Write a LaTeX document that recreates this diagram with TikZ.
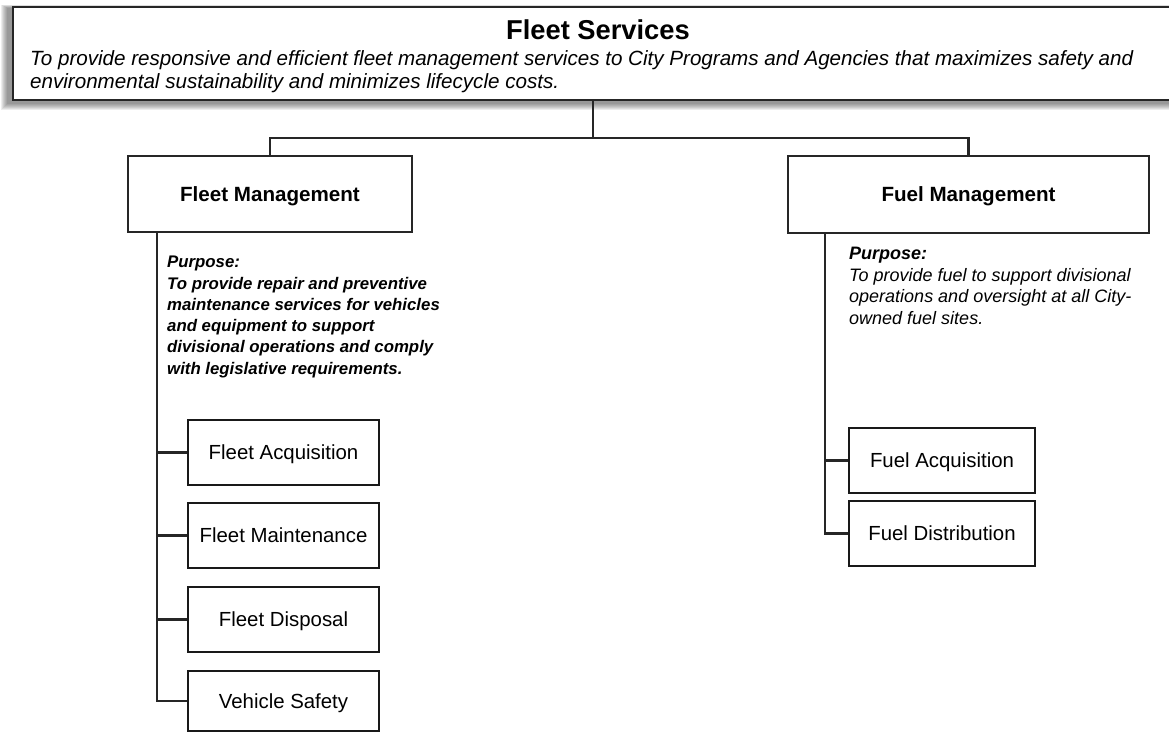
\documentclass[tikz,border=0pt]{standalone}
\usepackage{fontspec}
\setmainfont{Liberation Sans}
\usetikzlibrary{shadows}
\begin{document}
\begin{tikzpicture}[x=1pt,y=-1pt,
  line/.style={draw=black!85, line width=2.2pt},
  mgr/.style={draw=black!85, line width=2pt, fill=white, inner sep=0,
    text height=14.8pt, text depth=0pt,
    font=\fontsize{20.6}{24}\selectfont\bfseries},
  leaf/.style={draw=black!90, line width=2.3pt, fill=white, inner sep=0,
    minimum height=65pt, text height=14.6pt, text depth=0pt,
    font=\fontsize{20.4}{24}\selectfont,
    drop shadow={shadow xshift=1.4pt, shadow yshift=-1.4pt, fill=black, opacity=1}},
  purpose/.style={anchor=north west, align=left, inner sep=0},
]
\useasboundingbox (0,0) rectangle (1169,732);
% soft shadow of the top box
\foreach \k in {1,...,7}
  \fill[black, opacity=0.07] (12-4-\k, 6+2-\k*0.5) rectangle (1190, 99+4+\k);
\node[draw=black!85, line width=2pt, fill=white, anchor=north west, inner sep=0,
  minimum width=1175pt, minimum height=93pt] (top) at (12,6) {};
\node[font=\fontsize{27.3}{30}\selectfont\bfseries] (title) at (598,30) {Fleet Services};
\node[purpose, font=\fontsize{20.6}{23}\selectfont\itshape] (mission) at (30,50)
  {To provide responsive and efficient fleet management services to City Programs and Agencies that maximizes safety and\\
   environmental sustainability and minimizes lifecycle costs.};

% second level
\node[mgr, minimum width=284pt, minimum height=76pt] (fm) at (270,194) {Fleet Management};
\node[mgr, minimum width=361pt, minimum height=77pt] (fuel) at (968.5,194.5) {Fuel Management};

\coordinate (bus) at (593,138);
\draw[line] (bus |- top.south) -- (bus);
\draw[line] (fm.north) -- (fm.north |- bus) -- (fuel.north |- bus) -- (fuel.north);

% purposes
\node[purpose, font=\fontsize{16.8}{21.3}\selectfont\bfseries\itshape] (fmp) at (167,256)
  {Purpose:\\
   To provide repair and preventive\\
   maintenance services for vehicles\\
   and equipment to support\\
   divisional operations and comply\\
   with legislative requirements.};
\node[purpose, font=\fontsize{18}{21.5}\selectfont\itshape] (fup) at (849,247)
  {\textbf{Purpose:}\\
   To provide fuel to support divisional\\
   operations and oversight at all City-\\
   owned fuel sites.};

% leaves left
\node[leaf, minimum width=191pt] (fa) at (283.5,452.5) {Fleet Acquisition};
\node[leaf, minimum width=191pt] (fmn) at (283.5,535.5) {Fleet Maintenance};
\node[leaf, minimum width=191pt] (fd) at (283.5,619.5) {Fleet Disposal};
\node[leaf, minimum width=191pt, minimum height=60pt] (vs) at (283.5,701) {Vehicle Safety};

\coordinate (ls) at (157,232);
\draw[line] (ls) -- (ls |- vs.west) -- (vs.west);
\foreach \n in {fa,fmn,fd} \draw[line] (ls |- \n.west) -- (\n.west);

% leaves right
\node[leaf, minimum width=186pt] (fua) at (942,460.5) {Fuel Acquisition};
\node[leaf, minimum width=186pt] (fud) at (942,533.5) {Fuel Distribution};
\coordinate (rs) at (825,233);
\draw[line] (rs) -- (rs |- fud.west) -- (fud.west);
\draw[line] (rs |- fua.west) -- (fua.west);
\end{tikzpicture}
\end{document}
